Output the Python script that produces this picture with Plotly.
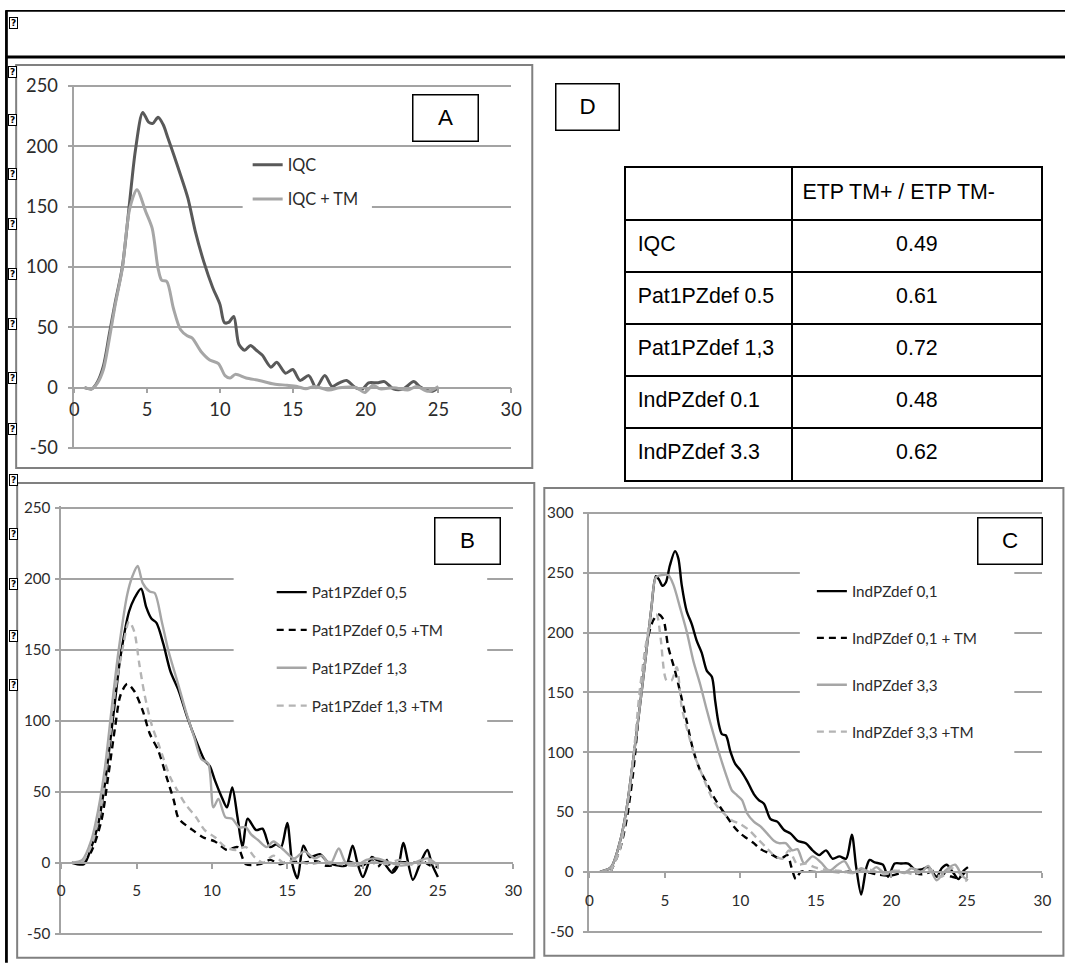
import plotly.graph_objects as go

# The photograph comes out at ~0.983 of CSS pixels and the html body keeps an 8px margin,
# so reference pixel p maps to figure pixel p / S - OFF.
S = 0.983
OFF = 8
W, H = 1076, 972

# ---------------- data ----------------
X_TICKS = [0, 5, 10, 15, 20, 25, 30]
AB_Y_TICKS = [-50, 0, 50, 100, 150, 200, 250]
AB_Y_TEXT = ["-50", "0", "50", "100", "150", "200", "250"]
C_Y_TICKS = [-50, 0, 50, 100, 150, 200, 250, 300]
C_Y_TEXT = ["-50", "0", "50", "100", "150", "200", "250", "300"]

# Panel A
A_IQC_X = [0.7, 1.2, 1.6, 2.0, 2.4, 2.8, 3.3, 3.8, 4.2, 4.7, 5.1, 5.4, 5.75, 6.1, 6.4, 6.8, 7.3, 7.8, 8.3, 8.9,
           9.5, 10.0, 10.3, 10.6, 10.95, 11.3, 11.7, 12.1, 12.5, 12.9, 13.5, 13.9, 14.5, 15.0, 15.5, 16.1, 16.6,
           17.2, 17.7, 18.2, 18.7, 19.3, 19.8, 20.2, 20.8, 21.3, 21.9, 22.6, 23.3, 23.7, 24.2, 24.6, 25.0]
A_IQC_Y = [0, -1, 5, 18, 44, 70, 100, 154, 197, 228, 220, 219, 224, 218, 208, 194, 176, 157, 130, 104,
           83, 69, 54, 54, 59, 36, 31, 35, 31, 27, 17, 21, 12, 15, 6, 10, 0,
           10, 1, 4, 6, 0, -1, 4, 4, 5, -1, -1, 5, 1, -2, -3, 0]
A_TM_X = [0.7, 1.2, 1.6, 2.0, 2.4, 2.8, 3.3, 3.8, 4.3, 4.9, 5.35, 5.75, 6.0, 6.35, 6.8, 7.3, 7.75, 8.1, 8.7, 9.3,
          9.9, 10.35, 10.7, 11.05, 11.8, 12.7, 13.7, 14.6, 15.3, 15.9, 16.5, 17.5, 18.2, 19.35, 19.95, 20.5,
          21.0, 21.95, 22.9, 23.5, 24.3, 25.0]
A_TM_Y = [0, -1, 4, 15, 40, 68, 99, 148, 164, 146, 132, 99, 89, 88, 66, 48, 43, 41, 30, 23,
          20, 10, 8, 11, 8, 6, 3, 2, 1, -1, 1, -2, 0, 0, -4, 2,
          -1, 0, -2, 1, -3, 1]

# Panel B
B_P05_X = [0.7, 1.5, 2.0, 2.45, 2.9, 3.47, 3.93, 4.5, 4.84, 5.3, 5.64, 5.98, 6.32, 6.78, 7.24, 7.8, 8.38, 8.95,
           9.52, 9.86, 10.2, 10.66, 11.0, 11.35, 11.7, 12.03, 12.37, 12.94, 13.36, 13.86, 14.27, 14.59, 15.0,
           15.34, 15.68, 16.07, 16.5, 17.17, 17.74, 18.42, 18.9, 19.34, 19.68, 20.02, 20.6, 20.94, 21.4, 21.96,
           22.4, 22.7, 23.34, 23.8, 24.3, 24.6, 25.0]
B_P05_Y = [0, -1, 11, 27, 56, 105, 145, 177, 186, 193, 180, 172, 169, 154, 135, 121, 102, 86,
           72, 68, 58, 46, 39, 53, 32, 11, 31, 23, 24, 11, 13, 11, 28,
           -1, -11, 12, 4, 6, 0, -2, -2, 12, -1, -10, 4, 2, 0, -7,
           -1, 14, -12, -1, 9, -1, -10]
B_P05TM_X = [1.4, 2.0, 2.67, 3.13, 3.58, 3.93, 4.38, 4.84, 5.41, 5.87, 6.44, 7.0, 7.47, 7.8, 8.6, 9.4, 10.2, 11.0,
             11.7, 12.26, 13.17, 13.86, 14.5, 15.2, 16.0, 17.0, 17.5, 18.5, 19.0, 20.0, 20.6, 21.0, 21.5, 22.0,
             22.5, 23.5, 24.0, 24.5, 25.0]
B_P05TM_Y = [0, 8, 30, 62, 96, 118, 126, 121, 107, 91, 79, 60, 44, 31, 24, 18, 15, 9,
             11, -1, -1, 2, -1, 1, 0, 1, -2, -1, 1, -2, 2, -3, 3, -5,
             0, 0, 1, -2, -3]
B_P13_X = [0.7, 1.4, 2.0, 2.45, 2.9, 3.36, 3.8, 4.38, 4.73, 5.07, 5.41, 5.87, 6.2, 6.67, 7.12, 7.7, 8.26, 8.84,
           9.3, 9.75, 10.1, 10.43, 10.9, 11.35, 11.8, 12.26, 12.6, 13.06, 13.63, 14.09, 14.77, 15.45, 16.14,
           16.83, 17.28, 17.85, 18.42, 18.88, 19.57, 20.25, 20.94, 21.85, 22.53, 23.2, 23.9, 24.36, 25.0]
B_P13_Y = [0, 2, 16, 37, 67, 110, 149, 189, 202, 209, 197, 191, 190, 170, 149, 128, 107, 88,
           73, 70, 39, 45, 32, 31, 25, 25, 20, 16, 11, 15, 9, 3, 8,
           3, 5, -1, 10, 0, -2, 2, 3, 0, -2, -1, 2, 3, -2]
B_P13TM_X = [1.4, 2.0, 2.67, 3.13, 3.58, 4.04, 4.5, 4.84, 5.18, 5.52, 5.98, 6.44, 6.9, 7.24, 7.7, 8.26, 8.95, 9.52,
             10.2, 10.9, 11.58, 12.26, 12.83, 13.4, 14.09, 14.77, 15.5, 16.5, 17.5, 18.5, 19.5, 20.5, 21.5, 22.5,
             23.5, 24.3, 25.0]
B_P13TM_Y = [0, 12, 41, 79, 121, 149, 170, 163, 140, 119, 98, 84, 70, 60, 51, 41, 32, 23,
             18, 11, 9, 11, 4, 0, 5, 0, 2, -1, 1, -1, -2, 1, -1, 2,
             -2, 2, -4]

# Panel C
C_I01_X = [0.7, 1.44, 2.0, 2.44, 2.89, 3.33, 3.78, 4.11, 4.4, 4.62, 4.84, 5.07, 5.33, 5.67, 5.89, 6.11, 6.44, 6.78,
           7.11, 7.44, 7.78, 8.11, 8.33, 8.56, 8.78, 9.04, 9.33, 9.67, 10.0, 10.44, 10.89, 11.22, 11.56, 12.0,
           12.44, 12.89, 13.33, 13.78, 14.33, 14.78, 15.22, 15.67, 16.11, 16.56, 17.0, 17.38, 17.67, 18.0, 18.33,
           18.56, 18.89, 19.44, 19.78, 20.22, 20.67, 21.11, 21.56, 22.0, 22.44, 23.0, 23.33, 23.67, 24.11, 24.44,
           24.78, 25.07]
C_I01_Y = [0, 4, 24, 51, 93, 137, 185, 221, 247, 244, 239, 242, 256, 268, 262, 240, 218, 207,
           193, 183, 168, 163, 143, 124, 115, 114, 101, 90, 85, 76, 65, 60, 57, 44,
           42, 35, 32, 26, 24, 18, 14, 18, 11, 13, 11, 31, 4, -19, 3,
           10, 8, 6, -4, 7, 7, 7, 2, 2, 4, -4, 3, 6, -1, -6,
           1, 4]
C_I01TM_X = [1.4, 2.0, 2.44, 2.89, 3.33, 3.78, 4.22, 4.56, 4.89, 5.22, 5.67, 6.0, 6.44, 6.89, 7.33, 7.78, 8.22, 8.67,
             9.11, 9.56, 10.0, 10.44, 10.89, 11.33, 12.0, 12.67, 13.11, 13.38, 13.67, 14.0, 15.0, 16.0, 17.0, 18.0,
             19.0, 20.0, 21.0, 22.0, 23.0, 24.0, 24.5, 25.0]
C_I01TM_Y = [0, 18, 42, 82, 140, 190, 210, 215, 211, 188, 168, 151, 126, 101, 85, 74, 63, 54,
             46, 38, 32, 28, 24, 19, 15, 11, 14, 4, -6, 0, 0, 0, 0, 1,
             -2, -3, 0, -2, 1, -4, -5, 2]
C_I33_X = [0.7, 1.44, 2.0, 2.44, 2.89, 3.33, 3.78, 4.11, 4.4, 4.78, 5.22, 5.56, 6.0, 6.44, 6.89, 7.33, 7.78, 8.22,
           8.67, 9.11, 9.44, 9.78, 10.11, 10.44, 10.89, 11.33, 11.78, 12.22, 12.56, 13.0, 13.44, 13.78, 14.22,
           14.78, 15.33, 15.89, 16.44, 16.89, 17.44, 18.0, 18.56, 19.0, 19.56, 20.22, 20.89, 21.33, 22.0, 22.44,
           23.0, 23.56, 24.22, 24.67, 25.07]
C_I33_Y = [0, 4, 24, 51, 93, 137, 185, 221, 246, 248, 248, 240, 221, 201, 176, 157, 135, 115,
           96, 79, 68, 64, 60, 49, 42, 38, 32, 26, 24, 24, 18, 19, 7,
           13, 8, 1, 6, 9, -1, 3, 0, 4, -1, 1, -1, 3, 0, 5,
           -7, 1, 6, -3, -7]
C_I33TM_X = [1.4, 2.0, 2.44, 2.89, 3.33, 3.78, 4.11, 4.44, 4.71, 5.11, 5.44, 5.78, 6.11, 6.56, 7.0, 7.44, 7.89, 8.33,
             8.89, 9.44, 10.0, 10.56, 11.11, 11.67, 12.22, 12.78, 13.22, 13.78, 14.33, 14.89, 15.5, 16.5, 17.5,
             18.5, 19.5, 20.5, 21.5, 22.5, 23.3, 24.0, 24.5, 25.0]
C_I33TM_Y = [0, 18, 48, 93, 151, 193, 212, 215, 196, 160, 160, 171, 138, 115, 96, 82, 68, 57,
             49, 43, 40, 35, 28, 21, 14, 11, 18, 6, 7, 4, 2, 1, -1,
             2, -2, 1, -2, 2, -4, 3, -1, -8]

# Panel D table
TABLE_HEADER = ["", "ETP TM+ / ETP TM-"]
TABLE_ROWS = ["IQC", "Pat1PZdef 0.5", "Pat1PZdef 1,3", "IndPZdef 0.1", "IndPZdef 3.3"]
TABLE_VALUES = ["0.49", "0.61", "0.72", "0.48", "0.62"]

PANEL_LABELS = ["A", "B", "C", "D"]


# ---------------- helpers (reference pixel -> paper fraction, kept inside the figure) ----------------
def fx(p):
    return min(max((p / S - OFF) / W, 0.0), 1.0)


def fy(p):
    return min(max(1 - (p / S - OFF) / H, 0.0), 1.0)


def sz(v):
    return v / S


GRID = "#a3a3a3"
TXT = "#2b2b2b"
CHART_FONT = "Lato"
ARIAL = "Liberation Sans, Arial, sans-serif"
DARK = "#595959"
LIGHT = "#a6a6a6"
LIGHT2 = "#b4b4b4"
DASH = "7px,5px"

fig = go.Figure()


def add_series(x, y, name, color, width, dash, sfx, legend, group):
    fig.add_trace(go.Scatter(
        x=x, y=y, name=name, mode="lines",
        line=dict(color=color, width=width, dash=dash, shape="spline", smoothing=0.8),
        xaxis="x" + sfx, yaxis="y" + sfx, legend=legend, legendgroup=group,
        hoverinfo="skip"))


add_series(A_IQC_X, A_IQC_Y, "IQC", DARK, 3, "solid", "", "legend", "a1")
add_series(A_TM_X, A_TM_Y, "IQC + TM", LIGHT, 3, "solid", "", "legend", "a2")

add_series(B_P05_X, B_P05_Y, "Pat1PZdef 0,5", "black", 2.4, "solid", "2", "legend2", "b1")
add_series(B_P05TM_X, B_P05TM_Y, "Pat1PZdef 0,5 +TM", "black", 2.4, DASH, "2", "legend2", "b2")
add_series(B_P13_X, B_P13_Y, "Pat1PZdef 1,3", LIGHT, 2.4, "solid", "2", "legend2", "b3")
add_series(B_P13TM_X, B_P13TM_Y, "Pat1PZdef 1,3 +TM", LIGHT2, 2.4, DASH, "2", "legend2", "b4")

add_series(C_I01_X, C_I01_Y, "IndPZdef 0,1", "black", 2.4, "solid", "3", "legend3", "c1")
add_series(C_I01TM_X, C_I01TM_Y, "IndPZdef 0,1 + TM", "black", 2.4, DASH, "3", "legend3", "c2")
add_series(C_I33_X, C_I33_Y, "IndPZdef 3,3", LIGHT, 2.4, "solid", "3", "legend3", "c3")
add_series(C_I33TM_X, C_I33TM_Y, "IndPZdef 3,3 +TM", LIGHT2, 2.4, DASH, "3", "legend3", "c4")

# table text through its own axes
n = len(TABLE_ROWS)
row_y = [n - i - 0.5 for i in range(n)]
tfont = dict(family=ARIAL, size=sz(21), color="black")
fig.add_trace(go.Scatter(x=[0.027] * n, y=row_y, text=TABLE_ROWS, mode="text",
                         textposition="middle right", textfont=tfont, xaxis="x4", yaxis="y4",
                         showlegend=False, hoverinfo="skip"))
fig.add_trace(go.Scatter(x=[0.7] * n, y=row_y, text=TABLE_VALUES, mode="text",
                         textposition="middle center", textfont=tfont, xaxis="x4", yaxis="y4",
                         showlegend=False, hoverinfo="skip"))
fig.add_trace(go.Scatter(x=[0.424], y=[n + 0.5], text=[TABLE_HEADER[1]], mode="text",
                         textposition="middle right", textfont=tfont, xaxis="x4", yaxis="y4",
                         showlegend=False, hoverinfo="skip"))

# ---------------- axes ----------------
PANELS = {
    "": dict(x0=77, x1=513, ytop=84, ybot=447, ymin=-50, ymax=250, ticks=AB_Y_TICKS, text=AB_Y_TEXT,
             fs=18, ys=6, xs=1),
    "2": dict(x0=64, x1=515, ytop=507, ybot=934, ymin=-50, ymax=250, ticks=AB_Y_TICKS, text=AB_Y_TEXT,
              fs=15, ys=1, xs=9),
    "3": dict(x0=591, x1=1043, ytop=512, ybot=932, ymin=-50, ymax=300, ticks=C_Y_TICKS, text=C_Y_TEXT,
              fs=15, ys=6, xs=10),
}
layout_axes = {}
for sfx, g in PANELS.items():
    pad = 1
    s = (g["ybot"] - g["ytop"]) / (g["ymax"] - g["ymin"])
    d0 = fy(g["ybot"] + pad * s)
    d1 = fy(g["ytop"] - pad * s)
    lo, hi = g["ymin"] - pad, g["ymax"] + pad
    pos = d0 + (0 - lo) / (hi - lo) * (d1 - d0)
    tf = dict(family=CHART_FONT, size=sz(g["fs"]), color=TXT)
    layout_axes["xaxis" + sfx] = dict(
        domain=[fx(g["x0"]), fx(g["x1"])], range=[0, 30], anchor="free", position=pos,
        tickvals=X_TICKS, showline=True, linecolor=GRID, linewidth=1.5, ticks="outside",
        ticklen=5, tickwidth=1.5, tickcolor=GRID, showgrid=False, zeroline=False,
        tickfont=tf, ticklabelstandoff=g["xs"], fixedrange=True)
    layout_axes["yaxis" + sfx] = dict(
        domain=[d0, d1], range=[lo, hi], anchor="x" + sfx, tickvals=g["ticks"], ticktext=g["text"],
        showgrid=True, gridcolor=GRID, gridwidth=1.5, showline=True, linecolor=GRID,
        linewidth=1.5, ticks="outside", ticklen=5, tickwidth=1.5, tickcolor=GRID,
        zeroline=False, tickfont=tf, ticklabelstandoff=g["ys"], fixedrange=True)

layout_axes["xaxis4"] = dict(domain=[fx(628), fx(1042)], range=[0, 1], anchor="y4", tickvals=[0.4],
                             showgrid=True, gridcolor="black", gridwidth=2.2, showticklabels=False,
                             ticks="", showline=True, mirror=True, linecolor="black", linewidth=2.2,
                             zeroline=False, fixedrange=True)
layout_axes["yaxis4"] = dict(domain=[fy(479), fy(166)], range=[0, n + 1], anchor="x4",
                             tickvals=list(range(1, n + 1)), showgrid=True, gridcolor="black",
                             gridwidth=2.2, showticklabels=False, ticks="", showline=True, mirror=True,
                             linecolor="black", linewidth=2.2, zeroline=False, fixedrange=True)


# ---------------- decorations ----------------
def pline(x0, y0, x1, y1, color, width):
    return dict(type="line", xref="paper", yref="paper", x0=fx(x0), x1=fx(x1), y0=fy(y0), y1=fy(y1),
                line=dict(color=color, width=width))


def prect(x0, y0, x1, y1, color, width, fill=None, layer="below"):
    d = dict(type="rect", xref="paper", yref="paper", x0=fx(x0), x1=fx(x1), y0=fy(y1), y1=fy(y0),
             line=dict(color=color, width=width), layer=layer)
    if fill:
        d["fillcolor"] = fill
    return d


shapes = [
    pline(8.6, 8.8, 1066, 8.8, "black", 1.8),
    pline(8.6, 55, 1066, 55, "black", 3),
    pline(9.3, 8, 9.3, 963, "black", 2.8),
    prect(19, 63, 534, 467, "#808080", 2),
    prect(20, 482, 536, 958, "#808080", 2),
    prect(546, 487, 1064, 956, "#808080", 2),
    # legend backgrounds (Excel legend areas)
    prect(245, 148, 374, 214, "white", 0, fill="white", layer="above"),
    prect(236, 570, 489, 727, "white", 0, fill="white", layer="above"),
    prect(801, 564, 1015, 760, "white", 0, fill="white", layer="above"),
]

annotations = []
# broken-image placeholder icons
for (ix, iy) in [(16.5, 21), (15.5, 70), (15.5, 118), (15.5, 172), (15.5, 222), (15.5, 273), (15.5, 323),
                 (15.5, 377), (15.5, 428), (16, 479), (16, 533), (16, 583), (16, 635), (16, 685)]:
    annotations.append(dict(x=fx(ix), y=fy(iy), xref="paper", yref="paper", text="<b>?</b>",
                            showarrow=False, font=dict(family="DejaVu Sans", size=9, color="black"),
                            bordercolor="black", borderwidth=1, borderpad=0, width=7, height=10,
                            bgcolor="white", xanchor="center", yanchor="middle"))

# panel letter boxes
for label, (cx, cy, bw, bh) in zip(PANEL_LABELS, [(447.5, 116, 63, 44), (469.5, 540, 63, 44),
                                                  (1011, 540, 62, 44), (589, 105, 61, 44)]):
    annotations.append(dict(x=fx(cx), y=fy(cy), xref="paper", yref="paper", text=label,
                            showarrow=False, font=dict(family=ARIAL, size=sz(22), color="black"),
                            bordercolor="black", borderwidth=1.5, borderpad=0, width=sz(bw), height=sz(bh),
                            bgcolor="white", xanchor="center", yanchor="middle"))

legend_common = dict(xanchor="left", yanchor="top", bgcolor="rgba(0,0,0,0)", borderwidth=0,
                     itemclick=False, itemdoubleclick=False)

fig.update_layout(
    width=W, height=H, margin=dict(l=0, r=0, t=0, b=0),
    paper_bgcolor="white", plot_bgcolor="rgba(0,0,0,0)",
    showlegend=True,
    legend=dict(x=fx(250), y=fy(146), font=dict(family=CHART_FONT, size=sz(16), color=TXT),
                tracegroupgap=10, **legend_common),
    legend2=dict(x=fx(274), y=fy(575), font=dict(family=CHART_FONT, size=sz(15), color=TXT),
                 tracegroupgap=15, **legend_common),
    legend3=dict(x=fx(813), y=fy(574), font=dict(family=CHART_FONT, size=sz(15), color=TXT),
                 tracegroupgap=24, **legend_common),
    shapes=shapes, annotations=annotations,
    **layout_axes,
)

fig.write_html("out.html")
